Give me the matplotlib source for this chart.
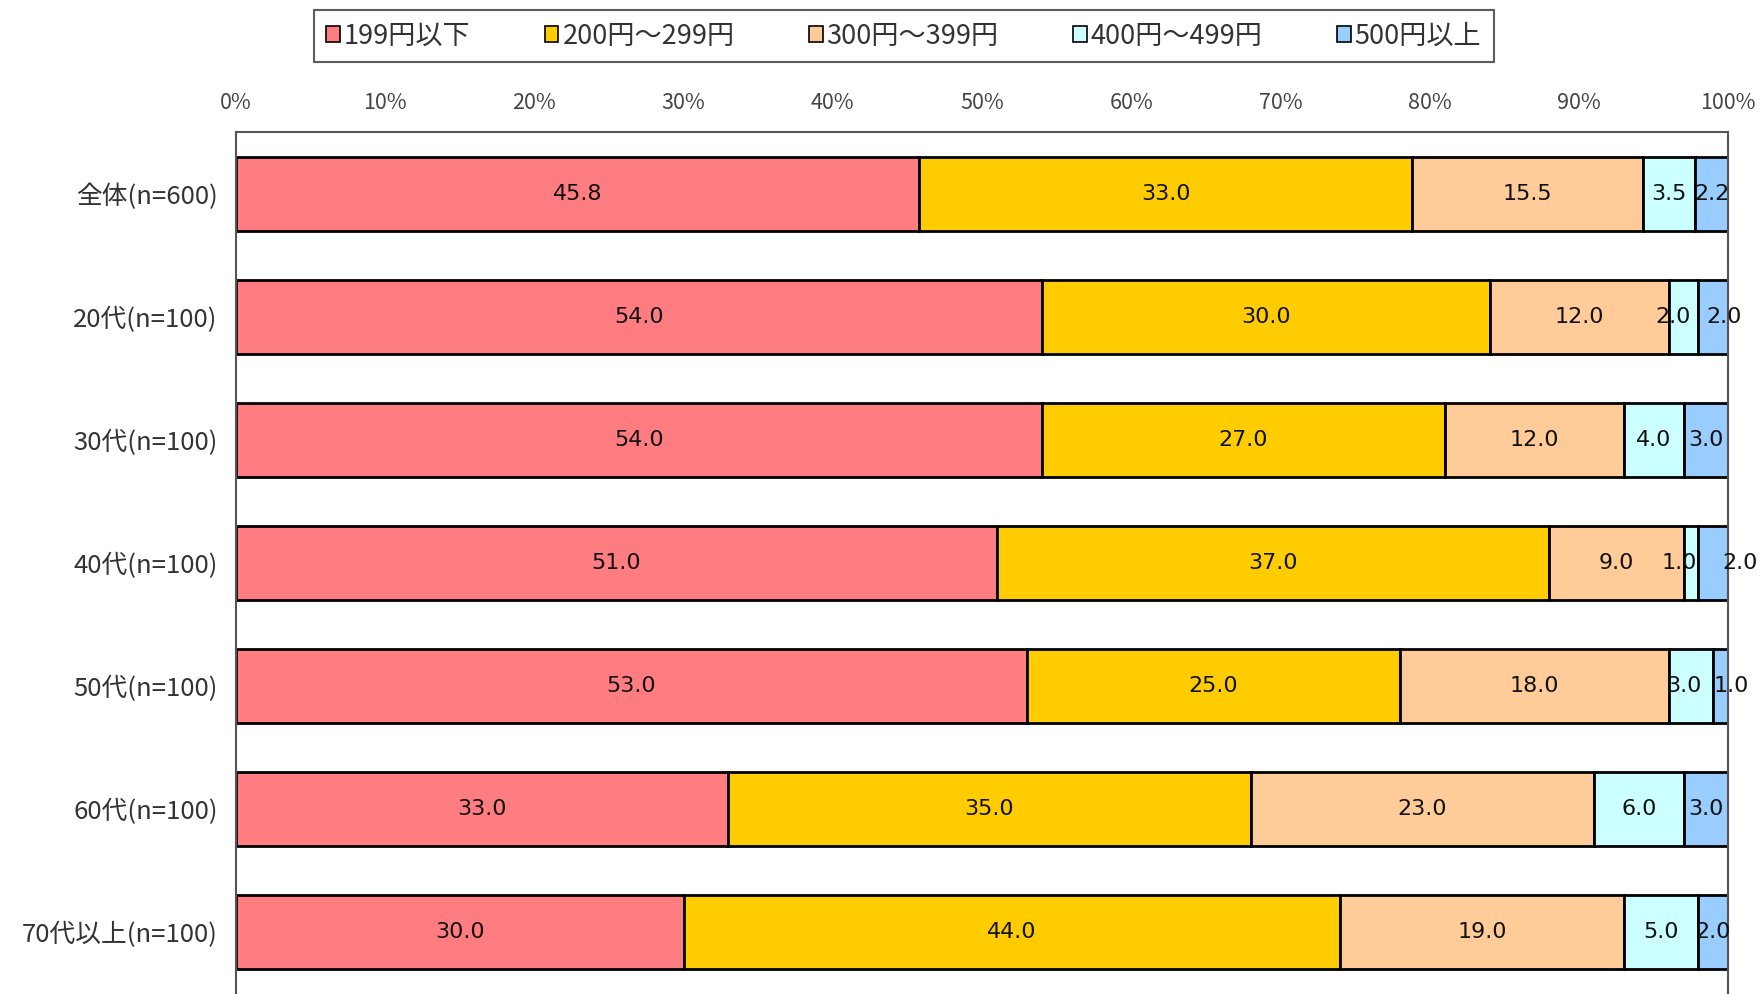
import matplotlib.pyplot as plt
import numpy as np

plt.rcParams['font.family'] = ['Noto Sans CJK JP', 'DejaVu Sans']

# 価格帯別の購入割合 (%)
groups = ["全体(n=600)", "20代(n=100)", "30代(n=100)", "40代(n=100)",
          "50代(n=100)", "60代(n=100)", "70代以上(n=100)"]
price_bands = ["199円以下", "200円～299円", "300円～399円", "400円～499円", "500円以上"]
under_200 = [45.8, 54.0, 54.0, 51.0, 53.0, 33.0, 30.0]
from_200 = [33.0, 30.0, 27.0, 37.0, 25.0, 35.0, 44.0]
from_300 = [15.5, 12.0, 12.0, 9.0, 18.0, 23.0, 19.0]
from_400 = [3.5, 2.0, 4.0, 1.0, 3.0, 6.0, 5.0]
over_500 = [2.2, 2.0, 3.0, 2.0, 1.0, 3.0, 2.0]

colors = ["#FF7C80", "#FFCC00", "#FFCC99", "#CCFFFF", "#99CCFF"]

series = [under_200, from_200, from_300, from_400, over_500]

# narrow segments: shift the label sideways (in %) so neighbours don't collide
label_shift = {(1, 3): -0.7, (1, 4): 0.7, (3, 3): -0.8, (3, 4): 1.8,
               (4, 3): -0.5, (4, 4): 0.7}

fig = plt.figure(figsize=(17.6, 9.94), dpi=100)
ax = fig.add_axes([0.134, -0.006, 0.848, 0.873])

y = np.arange(len(groups))
left = np.zeros(len(groups))
for si, (vals, color, name) in enumerate(zip(series, colors, price_bands)):
    vals = np.array(vals)
    ax.barh(y, vals, left=left, height=0.6, color=color,
            edgecolor="black", linewidth=2, label=name)
    for yi, (l, v) in enumerate(zip(left, vals)):
        dx = label_shift.get((yi, si), 0)
        ax.text(l + v / 2 + dx, yi, f"{v:.1f}", ha="center", va="center",
                fontsize=16, color="#111111", family="DejaVu Sans",
                clip_on=False)
    left += vals

ax.set_xlim(0, 100)
ax.set_ylim(len(groups) - 0.45, -0.5)
ax.set_xticks(np.arange(0, 101, 10))
ax.set_xticklabels([f"{t}%" for t in range(0, 101, 10)])
ax.xaxis.tick_top()
ax.tick_params(axis="x", length=0, pad=13, labelsize=15.5, labelcolor="#444444")
ax.set_yticks(y)
ax.set_yticklabels(groups)
ax.tick_params(axis="y", length=0, pad=13, labelsize=18.5, labelcolor="#333333")

for side in ["top", "left", "right"]:
    ax.spines[side].set_color("#555555")
    ax.spines[side].set_linewidth(1.5)
ax.spines["bottom"].set_visible(False)

leg = fig.legend(loc="upper center", bbox_to_anchor=(0.5135, 0.995), ncol=5,
                 fontsize=19.5, frameon=True, fancybox=False, edgecolor="#333333",
                 handlelength=0.5, handleheight=0.5, handletextpad=0.15,
                 columnspacing=2.75, borderpad=0.45, borderaxespad=0.2)
leg.get_frame().set_linewidth(1.5)
for h in leg.legend_handles:
    h.set_linewidth(1.2)
for t in leg.get_texts():
    t.set_color("#333333")

fig.savefig("out.png", dpi=100)
